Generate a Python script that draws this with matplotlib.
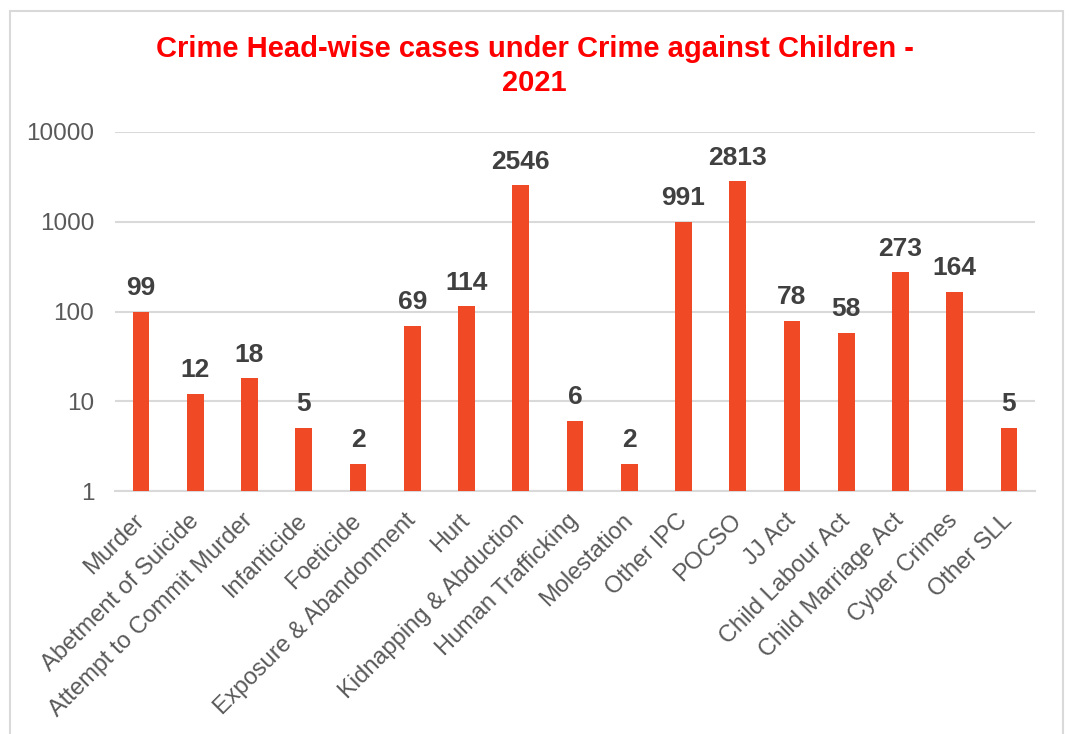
import matplotlib.pyplot as plt
from matplotlib.patches import Rectangle

# data
crime_heads = ["Murder", "Abetment of Suicide", "Attempt to Commit Murder", "Infanticide",
               "Foeticide", "Exposure & Abandonment", "Hurt", "Kidnapping & Abduction",
               "Human Trafficking", "Molestation", "Other IPC", "POCSO", "JJ Act",
               "Child Labour Act", "Child Marriage Act", "Cyber Crimes", "Other SLL"]
cases = [99, 12, 18, 5, 2, 69, 114, 2546, 6, 2, 991, 2813, 78, 58, 273, 164, 5]
y_ticks = [1, 10, 100, 1000, 10000]

plt.rcParams['font.family'] = ['Liberation Sans', 'DejaVu Sans']

fig = plt.figure(figsize=(10.69, 7.34), dpi=100)
ax = fig.add_axes([115/1069, 1-491/734, (1035-115)/1069, (491-132)/734])

x = range(len(cases))
ax.bar(x, cases, width=0.31, color="#EF4A25", zorder=3)
ax.set_yscale("log")
ax.set_ylim(1, 10000)
ax.set_xlim(-0.48, len(cases) - 0.52)
ax.set_yticks(y_ticks)
ax.set_yticklabels([str(t) for t in y_ticks])
ax.minorticks_off()
ax.grid(axis="y", color="#D9D9D9", linewidth=1.5, zorder=0)
for s in ["top", "right", "left"]:
    ax.spines[s].set_visible(False)
ax.spines["bottom"].set_color("#D9D9D9")
ax.spines["bottom"].set_linewidth(1.5)
ax.tick_params(axis="both", length=0, colors="#595959")
ax.tick_params(axis="y", pad=15, labelsize=17.5)
ax.set_xticks(list(x))
ax.set_xticklabels(crime_heads, rotation=45, ha="right", va="center",
                   rotation_mode="anchor")
ax.tick_params(axis="x", pad=19, labelsize=17)

# value labels
for i, v in enumerate(cases):
    ax.annotate(str(v), (i, v), xytext=(0, 8.5), textcoords="offset points",
                ha="center", va="bottom", fontsize=19, fontweight="bold", color="#404040")

fig.text(0.5, 1-49/734, "Crime Head-wise cases under Crime against Children -",
         ha="center", va="center", fontsize=21, fontweight="bold", color="#FF0000")
fig.text(0.5, 1-83/734, "2021",
         ha="center", va="center", fontsize=21, fontweight="bold", color="#FF0000")

# outer frame like the original chart area
fig.patches.append(Rectangle((10/1069, -0.05), 1053/1069, 1.05 - 11/734,
                             transform=fig.transFigure, fill=False,
                             edgecolor="#D9D9D9", linewidth=1.5))

fig.savefig("out.png", dpi=100)
